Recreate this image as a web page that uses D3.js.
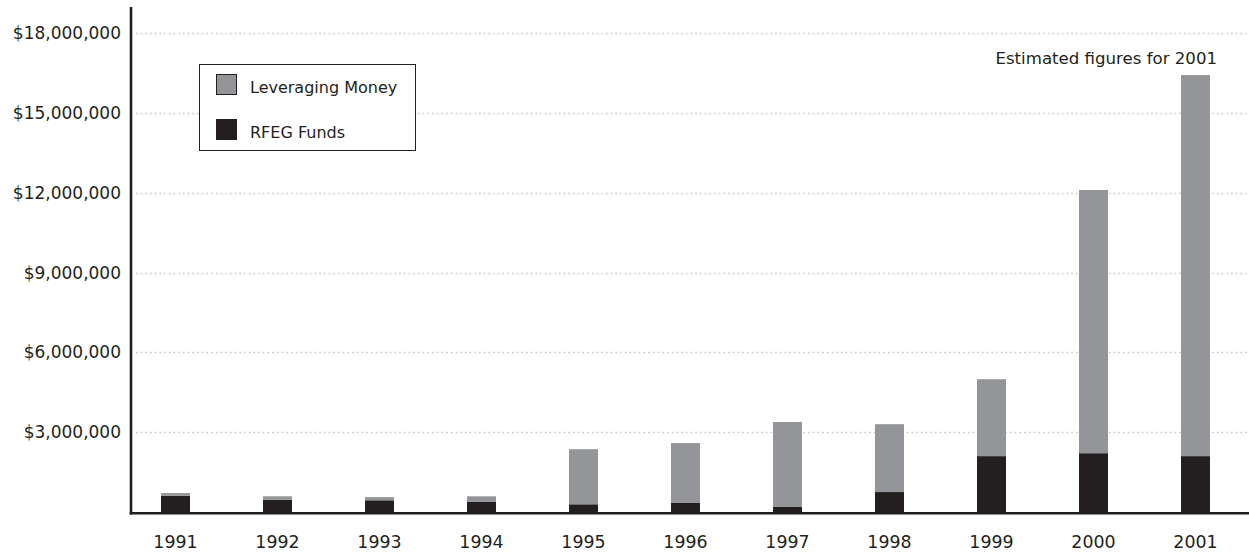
<!DOCTYPE html>
<html>
<head>
<meta charset="utf-8">
<script src="https://cdn.jsdelivr.net/npm/d3@7/dist/d3.min.js"></script>
<style>
  html, body { margin: 0; padding: 0; background: #fff; }
  svg { display: block; }
  text { font-family: "DejaVu Sans", sans-serif; fill: #231f20; }
</style>
</head>
<body>
<svg id="chart" width="1249" height="554"></svg>
<script>
// ---- data ----
const years = ["1991","1992","1993","1994","1995","1996","1997","1998","1999","2000","2001"];
const rfegFunds = [610000, 460000, 440000, 390000, 290000, 340000, 190000, 750000, 2100000, 2210000, 2100000];
const totals = [710000, 590000, 560000, 590000, 2360000, 2590000, 3380000, 3300000, 4990000, 12100000, 16420000];
const leveragingMoney = totals.map((t, i) => t - rfegFunds[i]);
const yTicks = [3000000, 6000000, 9000000, 12000000, 15000000, 18000000];
const seriesNames = ["Leveraging Money", "RFEG Funds"];
const seriesColors = ["#939598", "#231f20"];
const note = "Estimated figures for 2001";

// ---- layout ----
const W = 1249, H = 554;
const svg = d3.select("#chart");
const axisX = 131;
const y = d3.scaleLinear().domain([0, 18000000]).range([512, 33]);
const x = d3.scaleBand().domain(years).range([124.5, 1246.5])
  .paddingInner(1 - 29 / 102).paddingOuter((1 - 29 / 102) / 2);

// gridlines
svg.append("g").selectAll("line").data(yTicks).join("line")
  .attr("x1", 136).attr("x2", W)
  .attr("y1", d => Math.round(y(d)) + 0.5).attr("y2", d => Math.round(y(d)) + 0.5)
  .attr("stroke", "#c4c4c4").attr("stroke-width", 1.3)
  .attr("stroke-dasharray", "1.5,3.2");

// y labels
const fmt = d3.format("$,");
svg.append("g").selectAll("text").data(yTicks).join("text")
  .attr("x", 121).attr("y", d => y(d)).attr("dy", "0.36em")
  .attr("text-anchor", "end").attr("font-size", "17px")
  .text(d => fmt(d));

// stacked bars
const stackData = years.map((yr, i) => ({ year: yr, rfeg: rfegFunds[i], lev: leveragingMoney[i] }));
const stack = d3.stack().keys(["rfeg", "lev"])(stackData);
const colorByKey = { rfeg: seriesColors[1], lev: seriesColors[0] };
svg.append("g").selectAll("g").data(stack).join("g")
  .attr("fill", d => colorByKey[d.key])
  .selectAll("rect").data(d => d).join("rect")
  .attr("x", d => x(d.data.year))
  .attr("width", x.bandwidth())
  .attr("y", d => y(d[1]))
  .attr("height", d => (d[0] === 0 ? y(d[0]) + 2 : y(d[0])) - y(d[1]));

// axes lines
svg.append("line").attr("x1", axisX).attr("x2", axisX).attr("y1", 7).attr("y2", 514.5)
  .attr("stroke", "#231f20").attr("stroke-width", 2.6);
svg.append("line").attr("x1", axisX - 1.3).attr("x2", W).attr("y1", 513.2).attr("y2", 513.2)
  .attr("stroke", "#231f20").attr("stroke-width", 2.6);

// x labels
svg.append("g").selectAll("text").data(years).join("text")
  .attr("x", d => x(d) + x.bandwidth() / 2).attr("y", 548)
  .attr("text-anchor", "middle").attr("font-size", "17.4px")
  .text(d => d);

// note
svg.append("text").attr("x", 1217).attr("y", 64).attr("text-anchor", "end")
  .attr("font-size", "16.6px").text(note);

// legend
const lg = svg.append("g");
lg.append("rect").attr("x", 199.5).attr("y", 64.5).attr("width", 216).attr("height", 86)
  .attr("fill", "#fff").attr("stroke", "#231f20").attr("stroke-width", 1);
seriesNames.forEach((name, i) => {
  const yy = 74.5 + i * 45;
  lg.append("rect").attr("x", 216.5).attr("y", yy).attr("width", 20).attr("height", 20)
    .attr("fill", seriesColors[i]).attr("stroke", "#231f20").attr("stroke-width", 1);
  lg.append("text").attr("x", 250).attr("y", yy + 18).attr("font-size", "16px").text(name);
});
</script>
</body>
</html>
